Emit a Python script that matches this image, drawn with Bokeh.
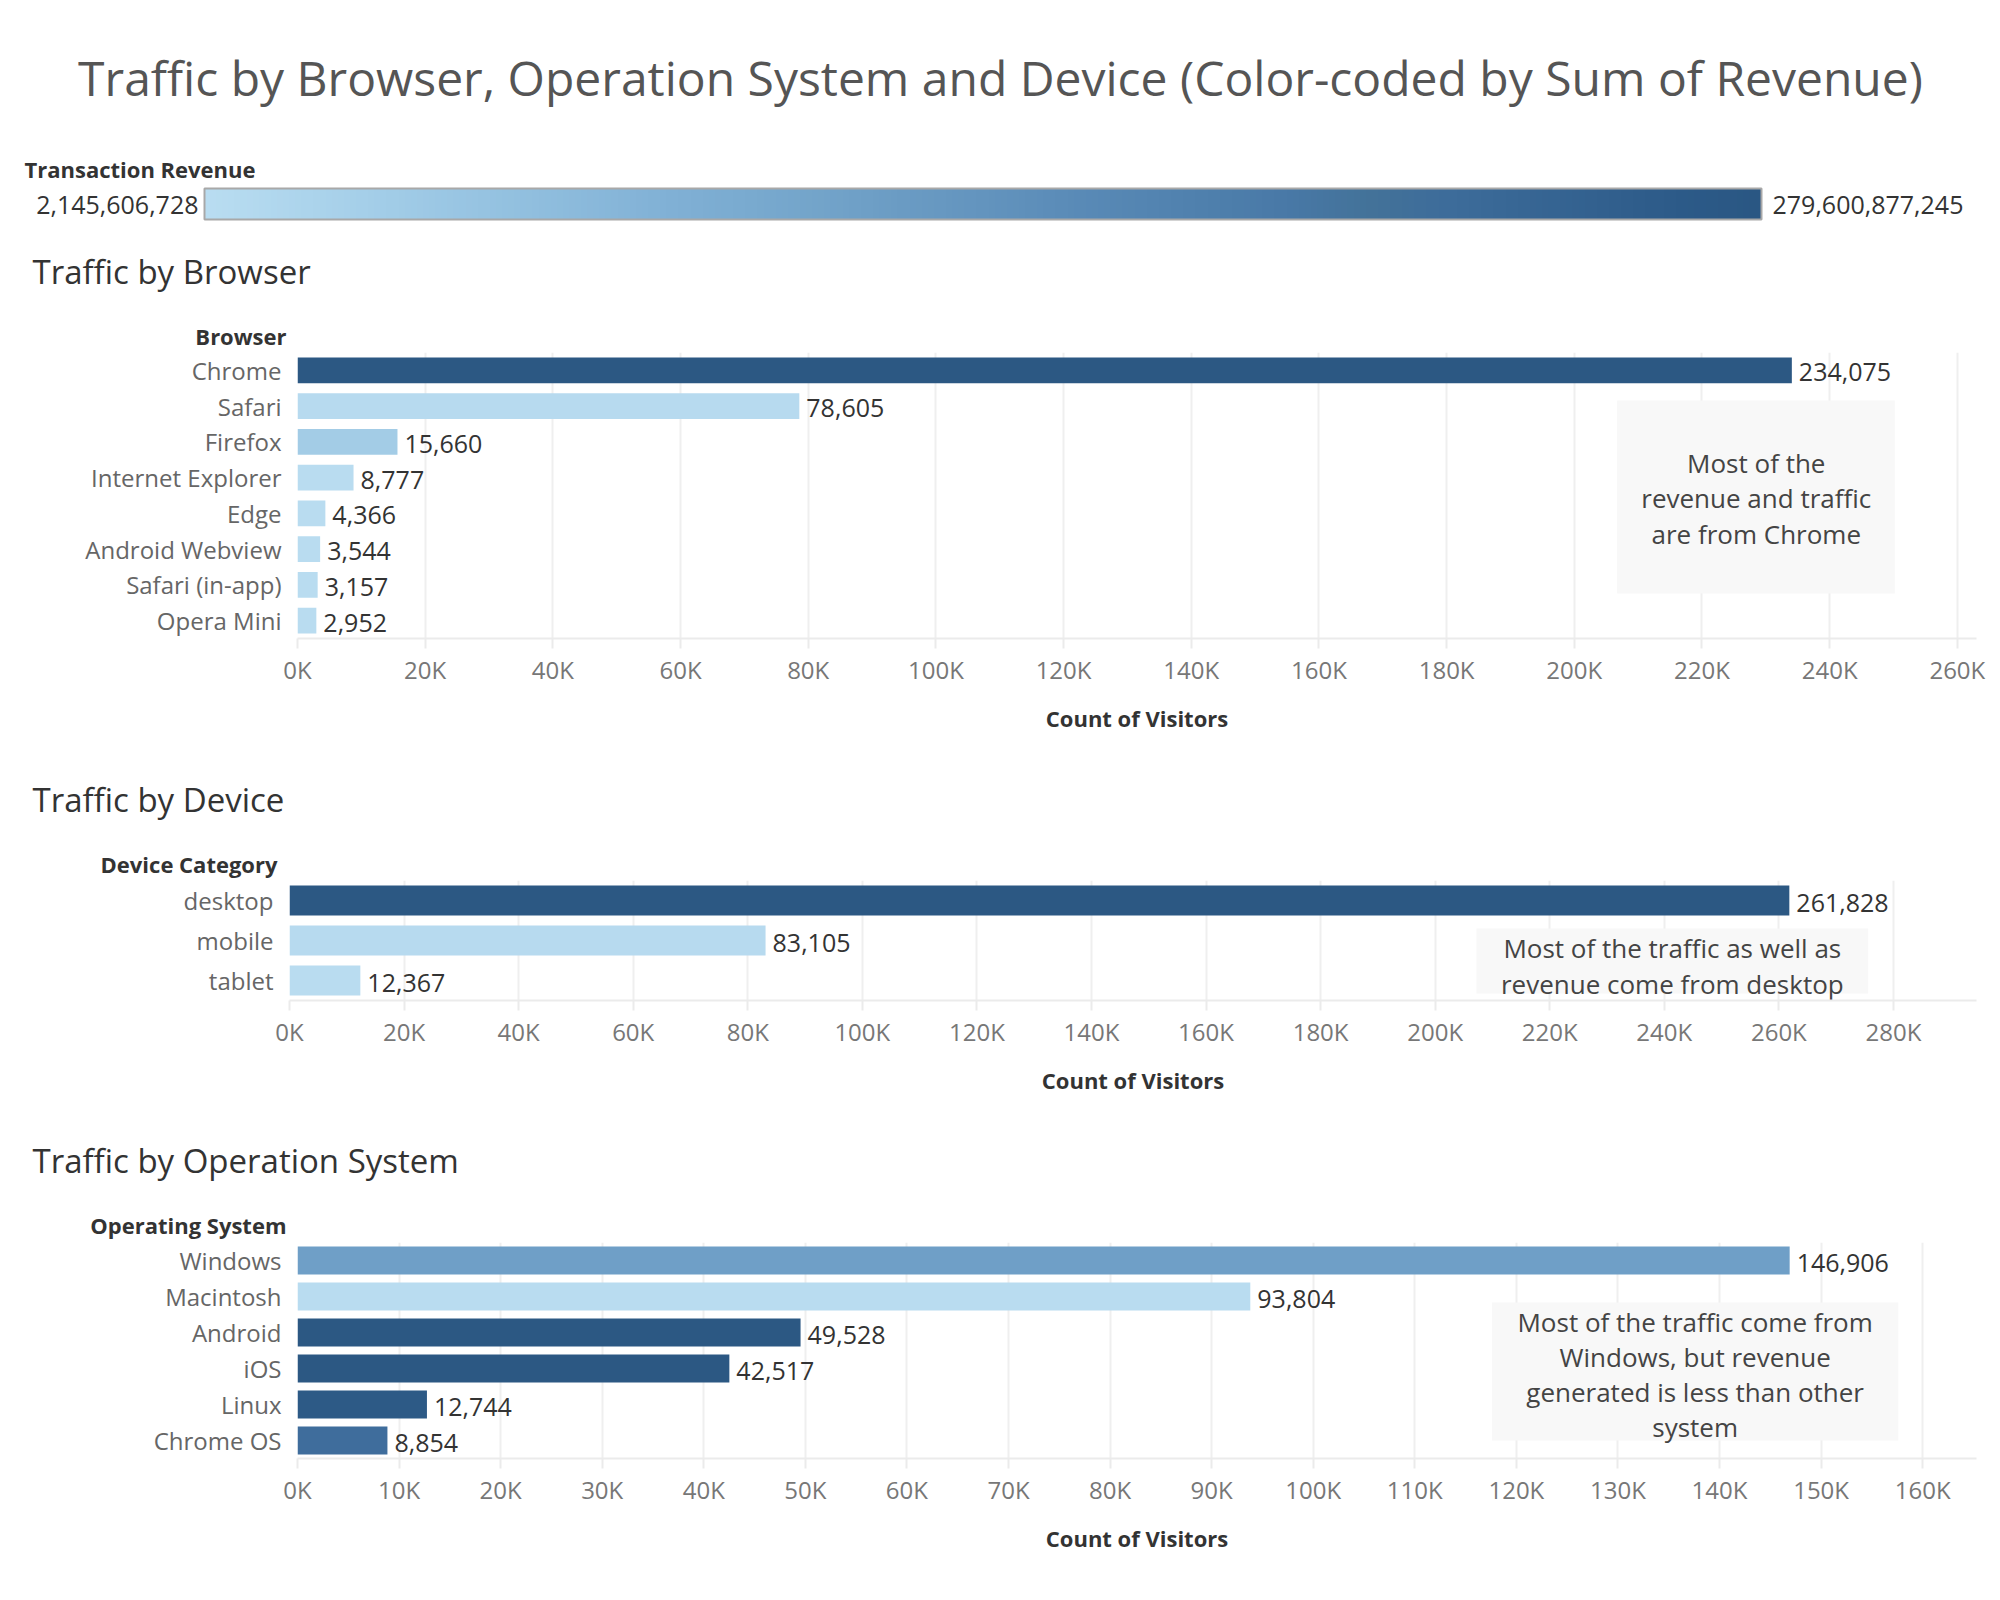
import numpy as np
from bokeh.plotting import figure
from bokeh.models import FactorRange, Range1d, FixedTicker, CustomJSTickFormatter, LinearColorMapper
from bokeh.layouts import column
from bokeh.core.properties import value
from bokeh.embed import file_html
from bokeh.resources import INLINE

FONT = "Open Sans"

# ---------------- data ----------------
browsers = ["Chrome", "Safari", "Firefox", "Internet Explorer", "Edge",
            "Android Webview", "Safari (in-app)", "Opera Mini"]
browser_visitors = [234075, 78605, 15660, 8777, 4366, 3544, 3157, 2952]

devices = ["desktop", "mobile", "tablet"]
device_visitors = [261828, 83105, 12367]

os_names = ["Windows", "Macintosh", "Android", "iOS", "Linux", "Chrome OS"]
os_visitors = [146906, 93804, 49528, 42517, 12744, 8854]

revenue_min = 2145606728
revenue_max = 279600877245

browser_ticks = list(range(0, 260001, 20000))
device_ticks = list(range(0, 280001, 20000))
os_ticks = list(range(0, 160001, 10000))

# ---------------- styles ----------------
DARK = "#2c5883"
LIGHT = "#b9dcf0"
browser_colors = [DARK, "#b7daef", "#a3cce6", LIGHT, LIGHT, LIGHT, LIGHT, LIGHT]
device_colors = [DARK, "#b7daef", LIGHT]
os_colors = ["#6f9fc7", LIGHT, DARK, DARK, "#2d5a86", "#3f6d9c"]

stops = ["#b9ddf1", "#afd6ed", "#a5cfe9", "#9bc7e4", "#92c0df", "#89b8da", "#80b0d5",
         "#79aacf", "#72a3c9", "#6a9bc3", "#6394be", "#5b8cb8", "#5485b2", "#4e7fac",
         "#4878a6", "#437299", "#3d6c9a", "#376694", "#32608e", "#2c5a88", "#2a5783"]


def hex2rgb(h):
    h = h.lstrip("#")
    return [int(h[i:i + 2], 16) for i in (0, 2, 4)]


def make_palette(stops, n=256):
    arr = np.array([hex2rgb(s) for s in stops], dtype=float)
    pos = np.linspace(0, 1, len(stops))
    out = []
    for tt in np.linspace(0, 1, n):
        rgb = [np.interp(tt, pos, arr[:, k]) for k in range(3)]
        out.append("#%02x%02x%02x" % tuple(int(round(c)) for c in rgb))
    return out


palette = make_palette(stops)

PAGE_W = 2000
FRAME_RIGHT = 1976


def text_strip(height):
    """A figure whose frame fills its whole area, in page-pixel coordinates (y down)."""
    p = figure(width=PAGE_W, height=height, x_range=Range1d(0, PAGE_W), y_range=Range1d(height, 0),
               x_axis_type=None, y_axis_type=None, output_backend="svg", toolbar_location=None,
               min_border_left=0, min_border_right=0, min_border_top=0, min_border_bottom=0,
               frame_align=False)
    p.outline_line_color = None
    return p


def put(p, x, y, txt, size, color, bold=False, align="left"):
    p.text(x=[x], y=[y], text=[txt], text_font=value(FONT), text_font_size=f"{size}px",
           text_color=color, text_font_style="bold" if bold else "normal",
           text_align=align, text_baseline="middle")


# ---------------- header: title, colour legend, first section title ----------------
hdr = text_strip(352)
put(hdr, 1000, 77,
    "Traffic by Browser, Operation System and Device (Color-coded by Sum of Revenue)",
    48, "#555555", align="center")
put(hdr, 24, 168, "Transaction Revenue", 22, "#333333", bold=True)
mapper = LinearColorMapper(palette=palette, low=revenue_min, high=revenue_max)
grad = np.linspace(revenue_min, revenue_max, 512).reshape(1, -1)
LEG_L, LEG_R, LEG_T, LEG_B = 204, 1761, 188, 219
hdr.image(image=[grad], x=LEG_L, y=LEG_T, dw=LEG_R - LEG_L, dh=LEG_B - LEG_T, color_mapper=mapper)
hdr.quad(left=[LEG_L], right=[LEG_R], top=[LEG_T], bottom=[LEG_B], fill_color=None,
         line_color="#a8a8a8", line_width=2)
put(hdr, 198, 204, f"{revenue_min:,}", 25, "#333333", align="right")
put(hdr, 1772, 204, f"{revenue_max:,}", 25, "#333333", align="left")
put(hdr, 32, 271, "Traffic by Browser", 33, "#333333")
put(hdr, 286, 335, "Browser", 22, "#333333", bold=True, align="right")

# ---------------- strips for the other sections ----------------
dev_strip = text_strip(135)
put(dev_strip, 32, 54, "Traffic by Device", 33, "#333333")
put(dev_strip, 277, 118, "Device Category", 22, "#333333", bold=True, align="right")

os_strip = text_strip(132)
put(os_strip, 32, 50, "Traffic by Operation System", 33, "#333333")
put(os_strip, 286, 114, "Operating System", 22, "#333333", bold=True, align="right")


# ---------------- bar chart builder ----------------
def bar_fig(cats, vals, colors, ticks, xmax, fig_h, frame_left, frame_h, bar_h, note):
    p = figure(width=PAGE_W, height=fig_h, y_range=FactorRange(factors=cats[::-1]),
               x_range=Range1d(0, xmax), output_backend="svg", toolbar_location=None,
               min_border_left=frame_left, min_border_right=PAGE_W - FRAME_RIGHT,
               min_border_top=0, min_border_bottom=fig_h - frame_h, frame_align=False)
    p.outline_line_color = None
    p.ygrid.grid_line_color = None
    p.xgrid.grid_line_color = "#efefef"
    p.xgrid.grid_line_width = 2
    p.xaxis.ticker = FixedTicker(ticks=ticks)
    p.xaxis.formatter = CustomJSTickFormatter(code="return (tick/1000).toFixed(0) + 'K'")
    p.xaxis.axis_line_color = "#ebebeb"
    p.xaxis.axis_line_width = 2
    p.xaxis.major_tick_line_color = "#ebebeb"
    p.xaxis.major_tick_line_width = 2
    p.xaxis.major_tick_out = 10
    p.xaxis.major_tick_in = 0
    p.xaxis.minor_tick_line_color = None
    p.xaxis.major_label_standoff = 4
    p.xaxis.major_label_text_font = FONT
    p.xaxis.major_label_text_font_size = "24px"
    p.xaxis.major_label_text_color = "#777777"
    p.xaxis.axis_label = "Count of Visitors"
    p.xaxis.axis_label_text_font = FONT
    p.xaxis.axis_label_text_font_size = "22px"
    p.xaxis.axis_label_text_font_style = "bold"
    p.xaxis.axis_label_text_color = "#333333"
    p.xaxis.axis_label_standoff = 14

    p.yaxis.axis_line_color = None
    p.yaxis.major_tick_line_color = None
    p.yaxis.minor_tick_line_color = None
    p.yaxis.major_label_standoff = 10
    p.yaxis.major_label_text_font = FONT
    p.yaxis.major_label_text_font_size = "24px"
    p.yaxis.major_label_text_color = "#666666"

    p.hbar(y=cats, right=vals, height=bar_h, left=0, fill_color=colors, line_color=None)
    p.text(x=vals, y=cats, text=[f"{v:,}" for v in vals], x_offset=7, y_offset=2,
           text_baseline="middle", text_font=value(FONT), text_font_size="25px",
           text_color="#333333")

    (nl, nr, nb, nt), (cx, y0, step), lines = note
    p.quad(left=[nl], right=[nr], bottom=[nb], top=[nt], fill_color="#f8f8f8", line_color=None)
    p.text(x=[cx] * len(lines), y=[y0 - i * step for i in range(len(lines))], text=lines,
           text_align="center", text_baseline="middle", text_font=value(FONT),
           text_font_size="26px", text_color="#444444")
    return p


browser_note = ((206700, 250200, 1.26, 6.66), (228500, 4.92, 0.993),
                ["Most of the", "revenue and traffic", "are from Chrome"])
device_note = ((207200, 275600, 0.175, 1.8), (241400, 1.325, 0.9),
               ["Most of the traffic as well as", "revenue come from desktop"])
os_note = ((117600, 157600, 0.5, 4.333), (137600, 3.778, 0.972),
           ["Most of the traffic come from", "Windows, but revenue",
            "generated is less than other", "system"])

# page rows: header 0-352, browser chart 352-745, device strip 745-880,
# device chart 880-1110, os strip 1110-1242, os chart 1242-1600
p_browser = bar_fig(browsers, browser_visitors, browser_colors, browser_ticks, 263000,
                    393, 297, 286, 0.72, browser_note)
p_device = bar_fig(devices, device_visitors, device_colors, device_ticks, 294500,
                   230, 289, 120, 0.75, device_note)
p_os = bar_fig(os_names, os_visitors, os_colors, os_ticks, 165300,
               358, 297, 216, 0.78, os_note)

layout = column(hdr, p_browser, dev_strip, p_device, os_strip, p_os, spacing=0)

with open("out.html", "w") as f:
    f.write(file_html(layout, INLINE))
